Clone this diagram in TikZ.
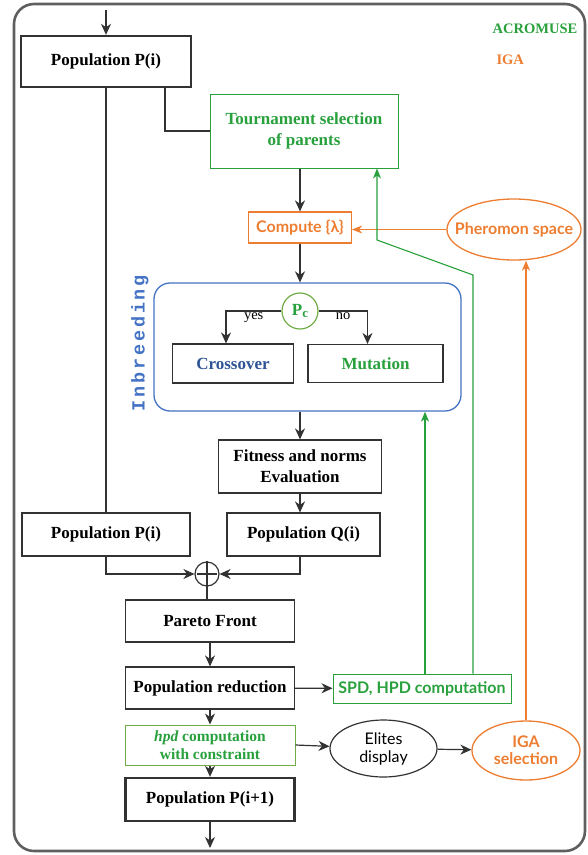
\documentclass[tikz,border=0pt]{standalone}
\usepackage{fontspec}
\setmainfont{Liberation Serif}
\newfontfamily\sansf{Lato}
\newfontfamily\monof[LetterSpace=15]{Liberation Mono}
\usetikzlibrary{arrows.meta,shapes.geometric,positioning}

\definecolor{acrogreen}{RGB}{40,160,60}
\definecolor{pcgreen}{RGB}{112,173,71}
\definecolor{igaorange}{RGB}{237,125,49}
\definecolor{inbblue}{RGB}{68,114,196}
\definecolor{crossblue}{RGB}{46,84,150}
\definecolor{linegray}{RGB}{50,50,50}
\definecolor{framegray}{RGB}{95,95,95}

\tikzset{
  box/.style={draw=linegray, line width=1.2pt, inner sep=0pt, align=center,
    font=\fontsize{17}{21}\selectfont\bfseries},
  thickbox/.style={box, line width=2.4pt},
  acrobox/.style={box, draw=acrogreen, text=acrogreen, line width=1pt},
  igabox/.style={box, draw=igaorange, text=igaorange,
    font=\sansf\fontsize{16}{19}\selectfont\bfseries},
  arr/.style={draw=linegray, line width=1.2pt,
    -{Stealth[length=11pt,width=10pt,inset=3.5pt]}},
  garr/.style={draw=acrogreen, line width=1.1pt,
    -{Stealth[length=10pt,width=8pt,inset=3pt]}},
  oarr/.style={draw=igaorange, line width=1.1pt,
    -{Stealth[length=10pt,width=8pt,inset=3pt]}},
  link/.style={draw=linegray, line width=1.2pt},
  lbl/.style={font=\fontsize{14.5}{17}\selectfont, inner sep=1.5pt},
}

\begin{document}
\begin{tikzpicture}[x=1pt,y=-1pt]
\useasboundingbox (0,0) rectangle (588,855);
\def\xl{106}
\def\xm{300}
\def\xp{210}

\draw[framegray, line width=2.6pt, rounded corners=20pt] (14,4) rectangle (585,851);

\node[font=\fontsize{14.5}{17}\selectfont\bfseries, text=acrogreen] (acro) at (535,29) {ACROMUSE};
\node[font=\fontsize{14.5}{17}\selectfont\bfseries, text=igaorange, anchor=west] (igal) at (493,60) {IGA};

\coordinate (in) at (\xl,10);
\node[thickbox, minimum width=170, minimum height=51] (popA) at (\xl,61.5) {Population P(i)};
\node[acrobox, minimum width=188, minimum height=74] (tourn) at (304,131) {Tournament selection\\of parents};
\node[igabox, minimum width=103, minimum height=31] (comp) at (\xm,227.5) {Compute \{λ\}};
\node[ellipse, draw=igaorange, line width=1.3pt, minimum width=134, minimum height=61,
  inner xsep=-12pt, inner ysep=0pt,
  text=igaorange, font=\sansf\fontsize{16}{19}\selectfont\bfseries] (pher) at (514,229.5) {Pheromon space};

\node[draw=inbblue, line width=1.3pt, rounded corners=16pt, minimum width=307, minimum height=128] (inb) at (307.5,347) {};
\node[rotate=90, text=inbblue, font=\monof\fontsize{18.5}{20}\selectfont\bfseries] (inbl) at (140,343) {Inbreeding};
\node[circle, draw=pcgreen, line width=1.2pt, minimum size=36, inner sep=0pt, text=acrogreen,
  font=\fontsize{17}{20}\selectfont\bfseries] (pc) at (\xm,311) {P\raisebox{-0.35ex}{\fontsize{13}{13}\selectfont c}};
\node[box, text=crossblue, minimum width=121, minimum height=39] (cross) at (233,363.5) {Crossover};
\node[box, text=acrogreen, minimum width=135, minimum height=38] (mut) at (375.5,363.5) {Mutation};

\node[box, minimum width=163, minimum height=53] (fit) at (\xm,466.5) {Fitness and norms\\Evaluation};
\node[box, minimum width=168, minimum height=43] (popB) at (\xl,534.5) {Population P(i)};
\node[box, minimum width=153, minimum height=43] (popQ) at (303.5,534.5) {Population Q(i)};
\node[circle, draw=linegray, line width=1.2pt, minimum size=24, inner sep=0pt] (plus) at (207,574) {};
\draw[link, shorten <=3pt, shorten >=3pt] (plus.north) -- (plus.south) (plus.west) -- (plus.east);

\node[box, minimum width=169, minimum height=42] (pareto) at (\xp,621) {Pareto Front};
\node[box, minimum width=169, minimum height=42] (red) at (\xp,688) {Population reduction};
\node[acrobox, font=\sansf\fontsize{16}{19}\selectfont\bfseries, minimum width=178, minimum height=29] (spd) at (422,688.5) {SPD, HPD computation};
\node[acrobox, draw=pcgreen, font=\fontsize{15.5}{18}\selectfont\bfseries, minimum width=170, minimum height=40] (hpd) at (\xp,745) {{\itshape hpd} computation\\with constraint};
\node[thickbox, minimum width=169, minimum height=43] (popC) at (\xp,799.5) {Population P(i+1)};
\coordinate (out) at (\xp,848);
\node[ellipse, draw=linegray, line width=1.2pt, minimum width=107, minimum height=57, inner sep=0pt,
  align=center, font=\sansf\fontsize{16}{18}\selectfont] (elit) at (383.5,748.5) {Elites\\display};
\node[ellipse, draw=igaorange, line width=1.3pt, minimum width=108, minimum height=59, inner sep=0pt,
  align=center, text=igaorange, font=\sansf\fontsize{16}{17}\selectfont\bfseries] (igas) at (526,750.5) {IGA\\selection};

\coordinate (g1) at (473,275);
\coordinate (g2) at (377,240);
\coordinate (g3) at (425,600);

\draw[arr] (in) -- (popA);
\draw[link] (popA) -- (popB);
\draw[link] ([xshift=59pt]popA.south) |- (tourn.west);
\draw[arr] (tourn.south -| comp) -- (comp);
\draw[arr] (comp) -- (comp |- inb.north);
\draw[oarr] (pher.west) -- (pher.west -| comp.east);
\draw[arr] (pc.west) -| node[lbl, pos=0.25, below] {yes} ([xshift=-7pt]cross.north);
\draw[arr] (pc.east) -| node[lbl, pos=0.25, below] {no} ([xshift=-8pt]mut.north);
\draw[arr] (inb.south -| fit) -- (fit);
\draw[arr] (fit) -- (fit |- popQ.north);
\draw[arr] (popB) |- (plus);
\draw[arr] (popQ.south -| fit) |- (plus);
\draw[link] (plus) -- (plus |- pareto.north);
\draw[arr] (pareto) -- (red);
\draw[arr] (red) -- (spd);
\draw[arr] (red) -- (hpd);
\draw[arr] (hpd) -- (popC);
\draw[arr] (popC) -- (out);
\draw[arr] (hpd.east) -- (elit);
\draw[arr] (elit) -- (igas);
\draw[garr] (spd.north -| g1) -- (g1) -- (g2) -- (g2 |- tourn.south);
\draw[garr] (spd.north -| g3) -- (g3 |- inb.south);
\draw[oarr] (igas.north) -- (igas |- pher.south);
\end{tikzpicture}
\end{document}
